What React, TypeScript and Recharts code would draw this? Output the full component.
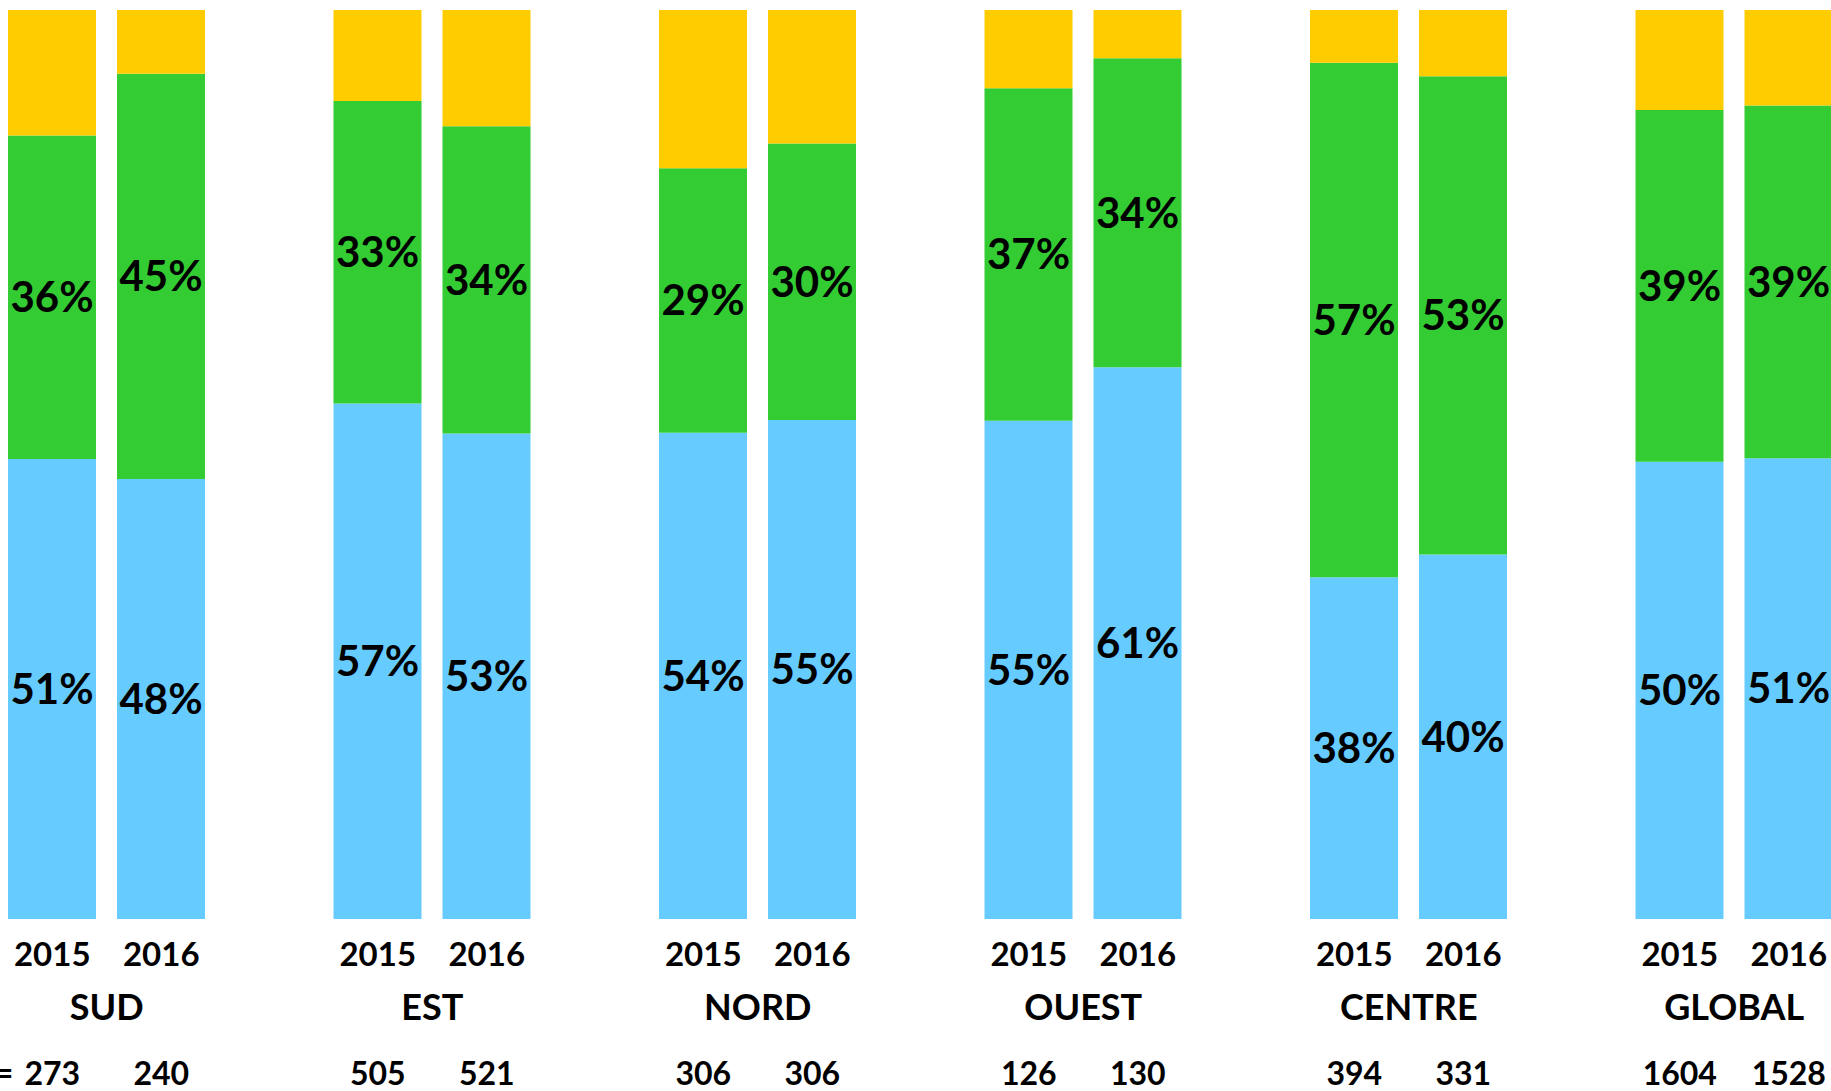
import React from 'react';
import { BarChart, Bar, XAxis, YAxis, LabelList } from 'recharts';

const regions = ['SUD', 'EST', 'NORD', 'OUEST', 'CENTRE', 'GLOBAL'];
const years = ['2015', '2016'];

const blue2015 = [50.6, 56.7, 53.5, 54.8, 37.6, 50.3];
const blue2016 = [48.4, 53.4, 54.9, 60.7, 40.1, 50.7];
const green2015 = [35.6, 33.3, 29.1, 36.6, 56.6, 38.7];
const green2016 = [44.6, 33.8, 30.4, 34.0, 52.6, 38.8];
const yellow2015 = [13.8, 10.0, 17.4, 8.6, 5.8, 11.0];
const yellow2016 = [7.0, 12.8, 14.7, 5.3, 7.3, 10.5];

const n2015 = [273, 505, 306, 126, 394, 1604];
const n2016 = [240, 521, 306, 130, 331, 1528];
const nPrefix = 'N =';

const data = regions.map((region, i) => ({
  region,
  blue2015: blue2015[i],
  green2015: green2015[i],
  yellow2015: yellow2015[i],
  blue2016: blue2016[i],
  green2016: green2016[i],
  yellow2016: yellow2016[i],
}));

const BLUE = '#66CCFF';
const GREEN = '#33CC33';
const YELLOW = '#FFCC00';
const BAR_SIZE = 88;
const BAR_GAP = 21;
const FONT = "Lato, 'Open Sans', sans-serif";

const pct = (v: any) => `${Math.round(Number(v))}%`;

const RegionTick = (props: any) => {
  const { x, y, payload } = props;
  const i = regions.indexOf(payload.value);
  const off = (BAR_SIZE + BAR_GAP) / 2;
  const xs = [x - off, x + off];
  const ns = [n2015[i], n2016[i]];
  return (
    <g fontFamily={FONT} fontWeight={700} fill="#000">
      {years.map((yr, k) => (
        <text key={'y' + k} x={xs[k]} y={y + 47} textAnchor="middle" fontSize={33} fill="#000">
          {yr}
        </text>
      ))}
      <text x={x} y={y + 101} textAnchor="middle" fontSize={36} fill="#000">
        {payload.value}
      </text>
      {ns.map((n, k) => (
        <text key={'n' + k} x={xs[k]} y={y + 166} textAnchor="middle" fontSize={32} fill="#000">
          {n}
        </text>
      ))}
      {i === 0 && (
        <text x={xs[0] - 39} y={y + 166} textAnchor="end" fontSize={32} fill="#000">
          {nPrefix}
        </text>
      )}
    </g>
  );
};

const labelStyle = {
  fill: '#000',
  fontSize: 42,
  fontWeight: 700,
  fontFamily: FONT,
};

export default function App() {
  return (
    <div
      style={{
        position: 'fixed',
        left: 0,
        top: 0,
        width: 1831,
        height: 1091,
        overflow: 'hidden',
        background: '#fff',
      }}
    >
      <div style={{ position: 'absolute', left: -56, top: 0 }}>
        <BarChart
          width={1953}
          height={1091}
          data={data}
          margin={{ top: 10, right: 0, bottom: 0, left: 0 }}
          barSize={BAR_SIZE}
          barGap={BAR_GAP}
        >
          <XAxis
            dataKey="region"
            axisLine={false}
            tickLine={false}
            tickSize={0}
            tickMargin={0}
            height={172}
            interval={0}
            tick={<RegionTick />}
          />
          <YAxis hide domain={[0, 100]} />
          <Bar dataKey="blue2015" stackId="y2015" fill={BLUE} isAnimationActive={false}>
            <LabelList dataKey="blue2015" position="center" formatter={pct} style={labelStyle} />
          </Bar>
          <Bar dataKey="green2015" stackId="y2015" fill={GREEN} isAnimationActive={false}>
            <LabelList dataKey="green2015" position="center" formatter={pct} style={labelStyle} />
          </Bar>
          <Bar dataKey="yellow2015" stackId="y2015" fill={YELLOW} isAnimationActive={false} />
          <Bar dataKey="blue2016" stackId="y2016" fill={BLUE} isAnimationActive={false}>
            <LabelList dataKey="blue2016" position="center" formatter={pct} style={labelStyle} />
          </Bar>
          <Bar dataKey="green2016" stackId="y2016" fill={GREEN} isAnimationActive={false}>
            <LabelList dataKey="green2016" position="center" formatter={pct} style={labelStyle} />
          </Bar>
          <Bar dataKey="yellow2016" stackId="y2016" fill={YELLOW} isAnimationActive={false} />
        </BarChart>
      </div>
    </div>
  );
}
